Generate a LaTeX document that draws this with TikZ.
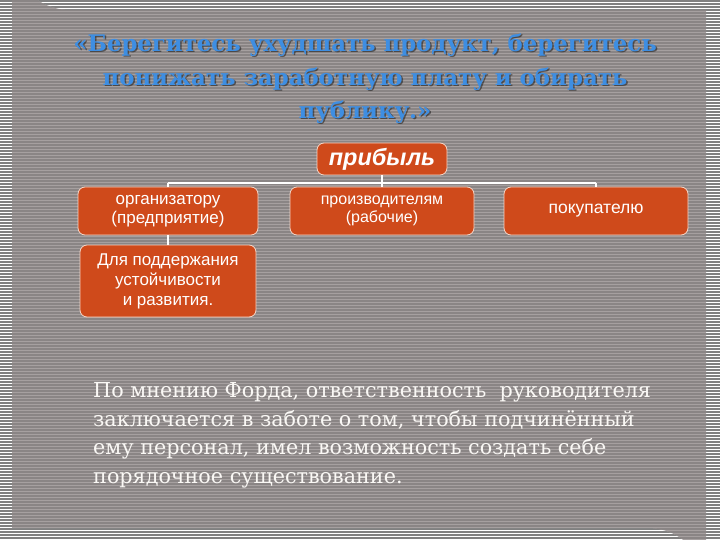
\documentclass[tikz,border=0pt]{standalone}
\usepackage{fontspec}
\setmainfont{DejaVu Serif}
\setsansfont{Liberation Sans}
\definecolor{outerg}{RGB}{128,128,128}
\definecolor{innerl}{RGB}{166,160,160}
\definecolor{innerd}{RGB}{138,133,133}
\definecolor{boxfill}{RGB}{207,74,27}
\definecolor{boxline}{RGB}{245,215,200}
\definecolor{titleblue}{RGB}{62,142,226}
\definecolor{bodytext}{RGB}{250,248,245}
\tikzset{
  box/.style={draw=boxline, line width=0.8pt, fill=boxfill, rounded corners=7pt,
    text=white, align=center, inner sep=0pt, font=\sffamily},
  conn/.style={draw=white, line width=2.5pt},
  ttl/.style={text=titleblue, font=\bfseries\fontsize{22.8}{34}\selectfont, inner sep=0pt},
  ttlsh/.style={text=black, opacity=0.45, font=\bfseries\fontsize{22.8}{34}\selectfont, inner sep=0pt},
}
\begin{document}
\begin{tikzpicture}[x=1pt,y=-1pt]
\useasboundingbox (0,0) rectangle (720,540);
% outer striped background
\fill[white] (0,0) rectangle (720,540);
\foreach \i in {0,...,180} {\draw[outerg, line width=1.5pt] (0,3*\i+1) -- (720,3*\i+1);}
% inner panel
\def\panel{(12,62) -- (12,528) -- (648,528) arc[start angle=270,end angle=360,radius=58] -- (706,10) -- (70,10) arc[start angle=90,end angle=180,radius=58] -- cycle}
\fill[innerl] \panel;
\begin{scope}
\clip \panel;
\foreach \i in {0,...,180} {\draw[innerd, line width=1.5pt] (0,3*\i+1) -- (720,3*\i+1);}
\end{scope}
% title
\node[ttlsh] at (366.5,46.5) {«Берегитесь ухудшать продукт, берегитесь};
\node[ttlsh] at (366.5,80.5) {понижать заработную плату и обирать};
\node[ttlsh] at (366.5,113.5) {публику.»};
\node[ttl] (t1) at (365,45) {«Берегитесь ухудшать продукт, берегитесь};
\node[ttl] (t2) at (365,79) {понижать заработную плату и обирать};
\node[ttl] (t3) at (365,112) {публику.»};
% boxes
\node[box, minimum width=130pt, minimum height=32pt, font=\sffamily\bfseries\itshape\fontsize{23.5}{26}\selectfont] (pr) at (382,159) {прибыль};
\node[box, minimum width=180pt, minimum height=48pt, font=\sffamily\fontsize{17}{19}\selectfont] (org) at (168,211) {организатору\\(предприятие)};
\node[box, minimum width=184pt, minimum height=48pt, font=\sffamily\fontsize{16}{18}\selectfont] (prod) at (382,211) {производителям\\(рабочие)};
\node[box, minimum width=184pt, minimum height=48pt, font=\sffamily\fontsize{17.5}{19}\selectfont] (buy) at (596,211) {покупателю};
\node[box, minimum width=176pt, minimum height=72pt, font=\sffamily\fontsize{17}{20}\selectfont] (dev) at (168,281) {Для поддержания\\устойчивости\\и развития.};
% connectors
\coordinate (hl) at (382,183);
\draw[conn] (pr.south) -- (pr.south |- hl);
\draw[conn] (org.north |- hl) -- (buy.north |- hl);
\draw[conn] (org.north |- hl) -- (org.north);
\draw[conn] (prod.north |- hl) -- (prod.north);
\draw[conn] (buy.north |- hl) -- (buy.north);
\draw[conn] (org.south) -- (dev.north);
% body text
\node[anchor=north west, align=left, text=bodytext, inner sep=0pt,
  font=\fontsize{20.7}{28.8}\selectfont] (body) at (93,382)
  {По мнению Форда, ответственность \ руководителя\\заключается в заботе о том, чтобы подчинённый\\ему персонал, имел возможность создать себе\\порядочное существование.};
\end{tikzpicture}
\end{document}
